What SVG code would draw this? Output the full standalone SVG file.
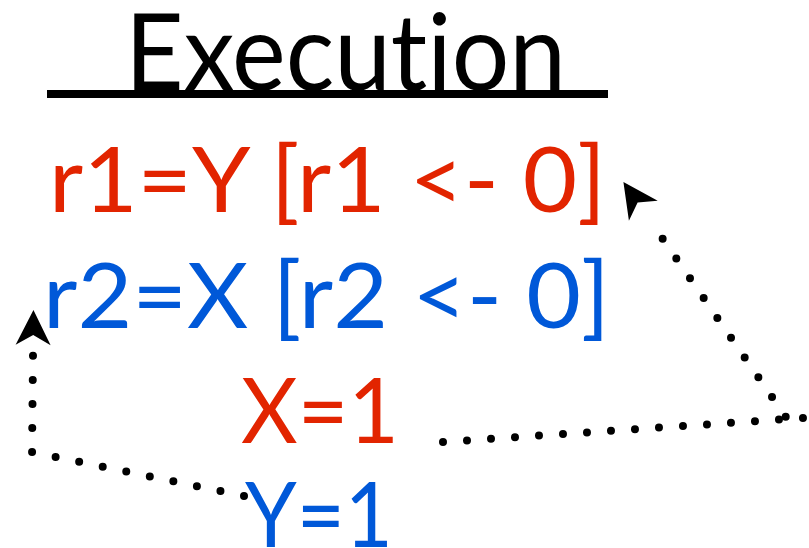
<svg xmlns="http://www.w3.org/2000/svg" width="809" height="548" viewBox="0 0 809 548">
<style>
  text { font-family: Lato, "Noto Sans", "Liberation Sans", sans-serif; font-variant-ligatures: none; font-feature-settings: "liga" 0; }
  .title { font-size: 107px; fill: #000; }
  .line { font-size: 91px; }
  .red { fill: #e22400; }
  .blue { fill: #0058d8; }
  .dots { fill: none; stroke: #000; stroke-width: 8; stroke-linecap: round; stroke-dasharray: 0 24.05; }
</style>
<defs>
  <marker id="head" markerUnits="userSpaceOnUse" viewBox="0 -20 50 40" markerWidth="50" markerHeight="40" refX="0" refY="0" orient="auto" overflow="visible">
    <path d="M45,0 L10,-17.5 L20,0 L10,17.5 Z" fill="#000"/>
  </marker>
</defs>
<rect width="809" height="548" fill="#fff"/>
<g id="title">
  <text class="title" x="125" y="90" textLength="441" lengthAdjust="spacingAndGlyphs">Execution</text>
  <rect x="47" y="90" width="561" height="8" fill="#000"/>
</g>
<g id="n-r1">
  <text class="line red" x="49" y="212" textLength="557" lengthAdjust="spacingAndGlyphs">r1=Y [r1 &lt;- 0]</text>
</g>
<g id="n-r2">
  <text class="line blue" x="43" y="328" textLength="567" lengthAdjust="spacingAndGlyphs">r2=X [r2 &lt;- 0]</text>
</g>
<g id="n-x">
  <text class="line red" x="241" y="443" textLength="158" lengthAdjust="spacingAndGlyphs">X=1</text>
</g>
<g id="n-y">
  <text class="line blue" x="245" y="547" textLength="148" lengthAdjust="spacingAndGlyphs">Y=1</text>
</g>
<g id="connectors">
  <path class="dots" d="M244,496 L32,452 L33,355" marker-end="url(#head)"/>
  <path class="dots" d="M443,442 L803,418"/>
  <path class="dots" d="M785.7,416.8 L649,219" marker-end="url(#head)"/>
</g>
</svg>
